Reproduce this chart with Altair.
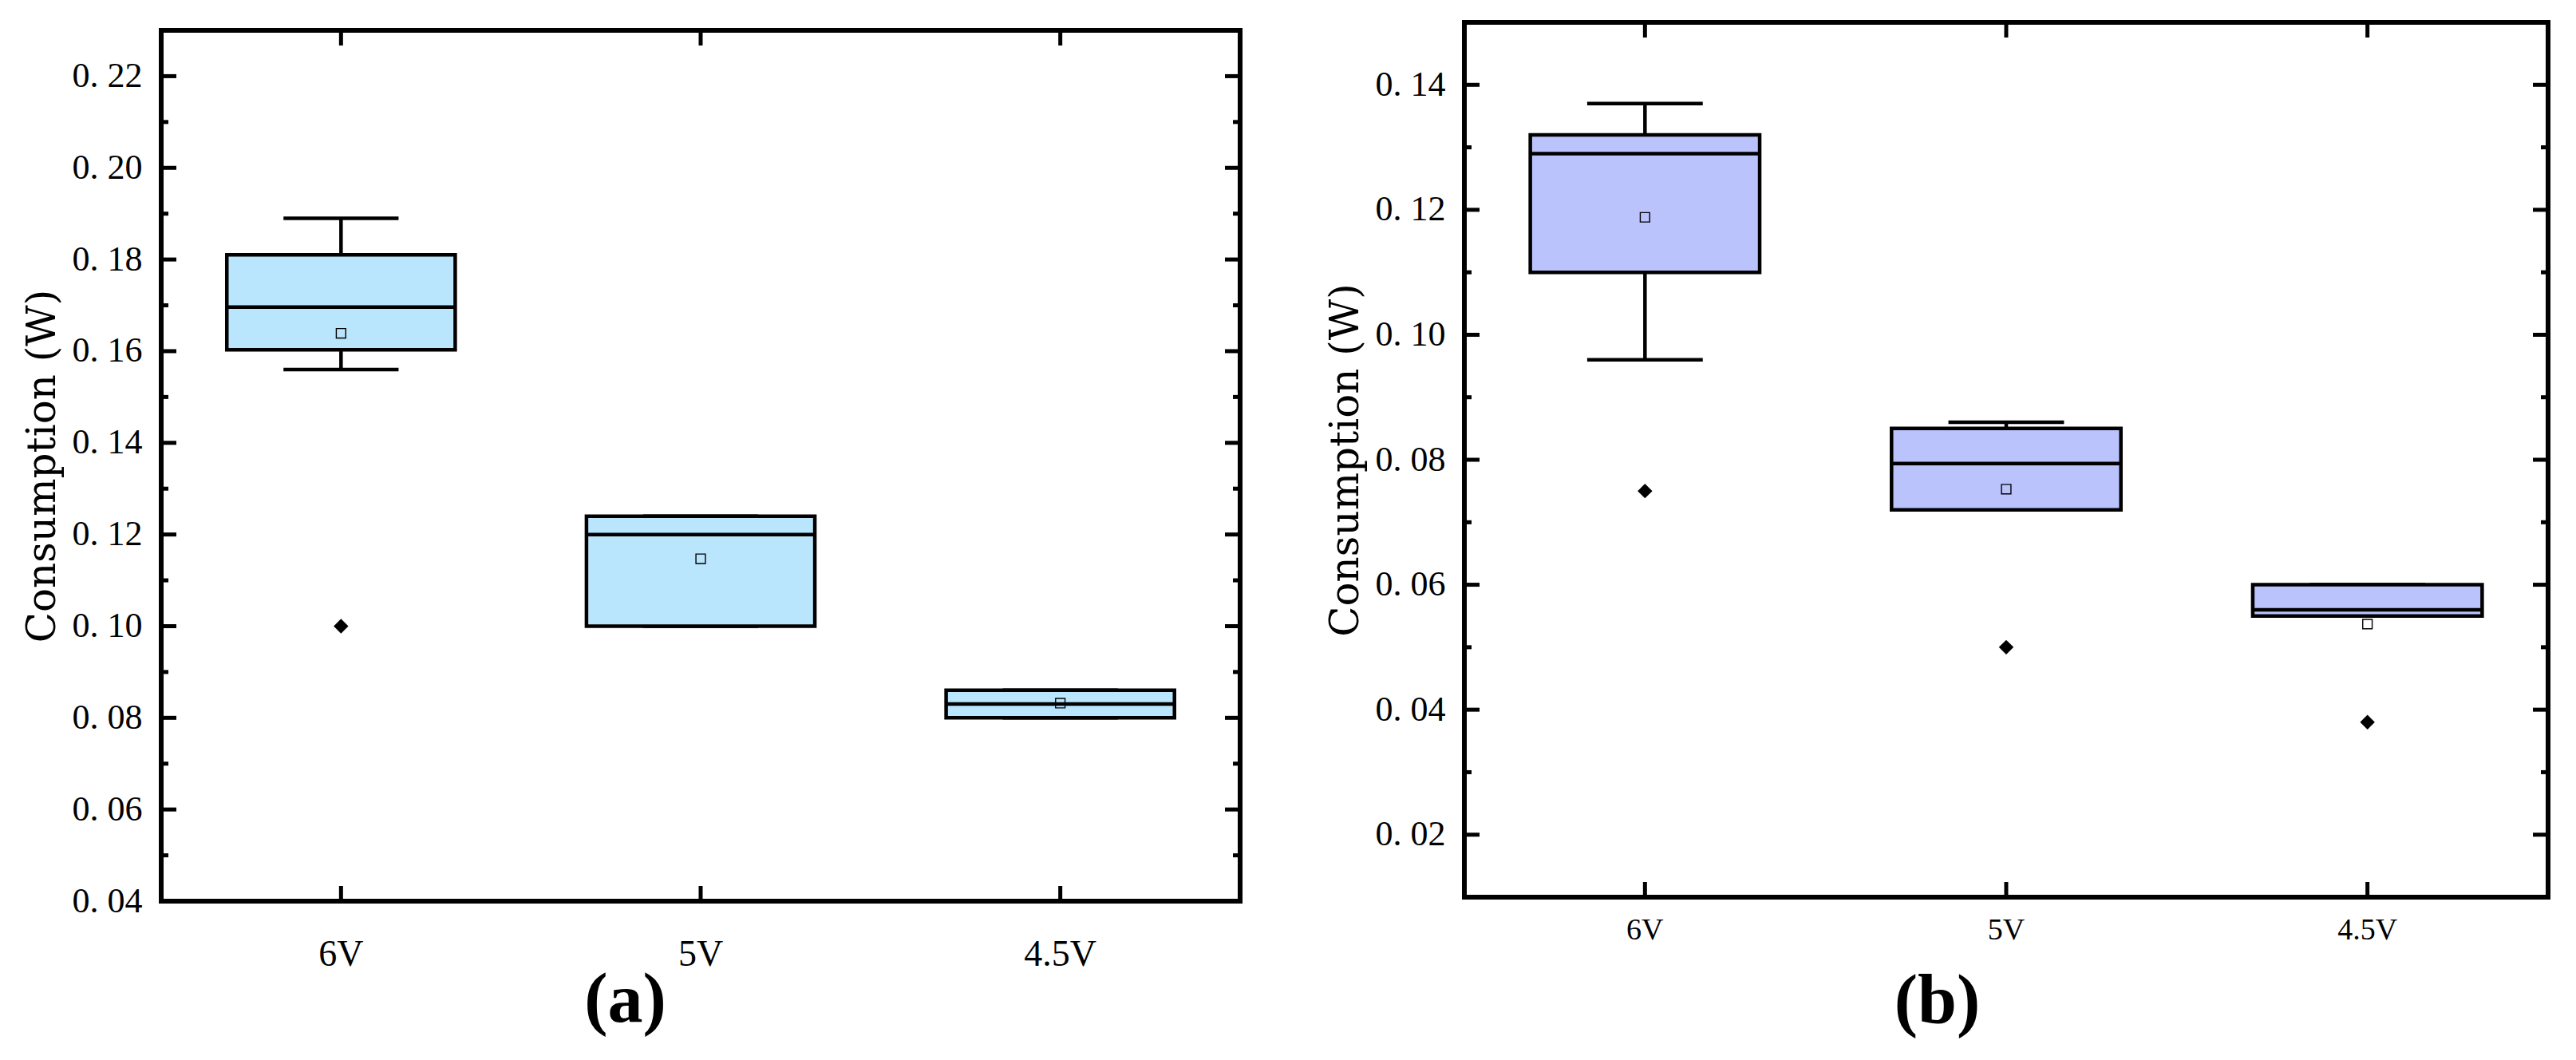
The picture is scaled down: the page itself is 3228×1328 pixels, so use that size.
import altair as alt
import pandas as pd

categories = ["6V", "5V", "4.5V"]

# ---- panel (a) ----
a_lower = [0.156, 0.100, 0.080]
a_q1 = [0.1603, 0.100, 0.080]
a_median = [0.1696, 0.120, 0.083]
a_q3 = [0.181, 0.124, 0.086]
a_upper = [0.189, 0.124, 0.086]
a_mean = [0.1639, 0.1147, 0.0832]
a_out_cat = ["6V"]
a_out_val = [0.100]
a_major = [0.04, 0.06, 0.08, 0.10, 0.12, 0.14, 0.16, 0.18, 0.20, 0.22]
a_minor = [0.05, 0.07, 0.09, 0.11, 0.13, 0.15, 0.17, 0.19, 0.21]
a_domain = [0.04, 0.23]

# ---- panel (b) ----
b_lower = [0.096, 0.072, 0.055]
b_q1 = [0.110, 0.072, 0.055]
b_median = [0.129, 0.0794, 0.056]
b_q3 = [0.132, 0.085, 0.060]
b_upper = [0.137, 0.086, 0.060]
b_mean = [0.1188, 0.0753, 0.0537]
b_out_cat = ["6V", "5V", "4.5V"]
b_out_val = [0.075, 0.050, 0.038]
b_major = [0.02, 0.04, 0.06, 0.08, 0.10, 0.12, 0.14]
b_minor = [0.03, 0.05, 0.07, 0.09, 0.11, 0.13]
b_domain = [0.01, 0.15]

y_title = "Consumption (W)"


def panel(lower, q1, median, q3, upper, mean, out_cat, out_val, major, minor,
          domain, W, H, fill, xlab_size, xlab_pad, caption, cap_x, cap_y):
    stats = pd.DataFrame({"cat": categories, "lower": lower, "q1": q1,
                          "median": median, "q3": q3, "upper": upper, "mean": mean})
    outs = pd.DataFrame({"cat": out_cat, "v": out_val})
    yscale = alt.Scale(domain=domain, nice=False, zero=False)
    xscale = alt.Scale(domain=categories, paddingInner=0, paddingOuter=0)

    yaxis = alt.Axis(title=y_title, values=major, format=".2f",
                     labelExpr="replace(format(datum.value, '.2f'), '.', '. ')",
                     ticks=False, domain=False, grid=False, labelPadding=24,
                     labelFont="Liberation Serif", labelFontSize=44, labelColor="black",
                     titleFont="DejaVu Serif", titleFontSize=50, titleFontWeight="normal",
                     titleColor="black", titlePadding=12)
    xaxis = alt.Axis(title=caption, labelAngle=0, ticks=False, domain=False, grid=False,
                     labelPadding=xlab_pad, labelFont="Liberation Serif", labelFontSize=xlab_size,
                     labelColor="black", titleFont="Liberation Serif", titleFontSize=88,
                     titleFontWeight="bold", titleColor="black", titleX=cap_x, titleY=cap_y,
                     titleAlign="center", titleBaseline="alphabetic")

    X = alt.X("cat:N", scale=xscale, sort=categories, axis=xaxis)

    def Y(f):
        return alt.Y(f, scale=yscale, axis=yaxis)

    band = W / 3.0
    box_px = 0.635 * band
    cap_px = 0.32 * band
    lw = 4.5

    base = alt.Chart(stats)
    wl = base.mark_rule(color="black", strokeWidth=lw).encode(x=X, y=Y("lower:Q"), y2="q1:Q")
    wh = base.mark_rule(color="black", strokeWidth=lw).encode(x=X, y=Y("q3:Q"), y2="upper:Q")
    cl = base.mark_tick(color="black", thickness=lw, size=cap_px, opacity=1).encode(x=X, y=Y("lower:Q"))
    ch = base.mark_tick(color="black", thickness=lw, size=cap_px, opacity=1).encode(x=X, y=Y("upper:Q"))
    box = base.mark_bar(fill=fill, stroke="black", strokeWidth=lw,
                        width=alt.RelativeBandSize(0.635)).encode(
        x=X, y=Y("q1:Q"), y2="q3:Q")
    med = base.mark_tick(color="black", thickness=lw, size=box_px, opacity=1).encode(x=X, y=Y("median:Q"))
    mn = base.mark_point(shape="square", size=140, filled=False, stroke="black",
                         strokeWidth=1.4, opacity=1).encode(x=X, y=Y("mean:Q"))
    ol = alt.Chart(outs).mark_point(shape="diamond", filled=True, color="black",
                                    size=340, opacity=1).encode(x=X, y=Y("v:Q"))

    maj = alt.Chart(pd.DataFrame({"v": major}))
    mnr = alt.Chart(pd.DataFrame({"v": minor}))
    xt = alt.Chart(pd.DataFrame({"cat": categories}))
    tk = []
    tk.append(maj.mark_rule(color="black", strokeWidth=5).encode(y=Y("v:Q"), x=alt.value(0), x2=alt.value(19)))
    tk.append(maj.mark_rule(color="black", strokeWidth=5).encode(y=Y("v:Q"), x=alt.value(W - 19), x2=alt.value(W)))
    tk.append(mnr.mark_rule(color="black", strokeWidth=5).encode(y=Y("v:Q"), x=alt.value(0), x2=alt.value(9)))
    tk.append(mnr.mark_rule(color="black", strokeWidth=5).encode(y=Y("v:Q"), x=alt.value(W - 9), x2=alt.value(W)))
    tk.append(xt.mark_rule(color="black", strokeWidth=5).encode(x=X, y=alt.value(H), y2=alt.value(H - 19)))
    tk.append(xt.mark_rule(color="black", strokeWidth=5).encode(x=X, y=alt.value(0), y2=alt.value(19)))

    return alt.layer(wl, wh, cl, ch, box, med, mn, ol, *tk).properties(width=W, height=H)


left = panel(a_lower, a_q1, a_median, a_q3, a_upper, a_mean, a_out_cat, a_out_val,
             a_major, a_minor, a_domain, 1352, 1091, "#B9E5FD", 46, 44, "(a)", 581, 150)
right = panel(b_lower, b_q1, b_median, b_q3, b_upper, b_mean, b_out_cat, b_out_val,
              b_major, b_minor, b_domain, 1358, 1096, "#BBC3FD", 38, 22, "(b)", 592, 157)

spacer = alt.Chart(pd.DataFrame({"v": [0]})).mark_point(opacity=0).encode(
    x=alt.value(0), y=alt.value(0)).properties(width=1, height=4,
                                               view=alt.ViewConfig(strokeOpacity=0))

left_col = alt.vconcat(spacer, left, spacing=0)

chart = alt.hconcat(left_col, right, spacing=98).properties(
    padding={"left": 17, "top": 14, "right": 5, "bottom": 0},
    background="white",
).configure_view(stroke="black", strokeWidth=6)

chart.save("out.html", embed_options={"renderer": "svg", "actions": False})
